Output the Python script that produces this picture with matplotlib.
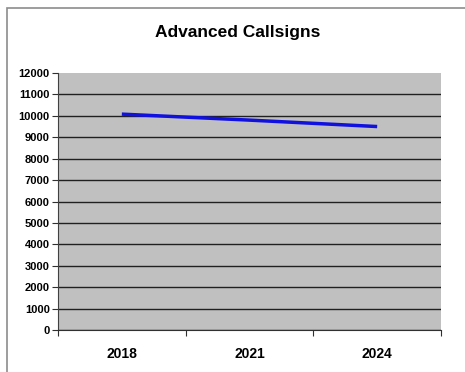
import matplotlib.pyplot as plt
from matplotlib.patches import Rectangle

years = ["2018", "2021", "2024"]
callsigns = [10080, 9800, 9500]
y_ticks = list(range(0, 12001, 1000))

plt.rcParams['font.family'] = ['Liberation Sans', 'DejaVu Sans']

W, H = 465, 372
fig = plt.figure(figsize=(W / 100, H / 100), dpi=100)
fig.patch.set_facecolor("white")

# outer chart frame (only top and left edges fall inside the picture)
fig.patches.append(Rectangle((7 / W, -0.02), 1.05, 1 - 8 / H + 0.02,
                             transform=fig.transFigure, fill=False,
                             edgecolor="#8c8c8c", linewidth=1.2))

ax = fig.add_axes([58 / W, 1 - 330 / H, (441 - 58) / W, (330 - 73) / H])
ax.set_facecolor("#c0c0c0")

x = list(range(len(years)))
ax.plot(x, callsigns, color="#1010e0", linewidth=2.5, solid_capstyle="butt")

ax.set_xlim(-0.5, len(years) - 0.5)
ax.set_ylim(0, 12000)
ax.set_yticks(y_ticks)
ax.set_yticklabels([str(v) for v in y_ticks], fontsize=8, fontweight="bold")
ax.yaxis.grid(True, color="#202020", linewidth=1)
ax.set_axisbelow(True)
ax.get_ygridlines()[-1].set_visible(False)

ax.set_xticks([i - 0.5 for i in range(len(years) + 1)])
ax.set_xticklabels([])
ax.set_xticks(x, minor=True)
ax.set_xticklabels(years, minor=True, fontsize=10, fontweight="bold")
ax.tick_params(axis="x", which="major", length=4, direction="out", color="#303030")
ax.tick_params(axis="x", which="minor", length=0, pad=12)
ax.tick_params(axis="y", length=4, direction="out", color="#303030", pad=2)

for side in ["top", "right"]:
    ax.spines[side].set_visible(False)
ax.spines["left"].set_color("#404040")
ax.spines["bottom"].set_color("#303030")

fig.text(238 / W, 1 - 33 / H, "Advanced Callsigns", ha="center", va="center",
         fontsize=12.5, fontweight="bold")

fig.savefig("out.png", dpi=100)
